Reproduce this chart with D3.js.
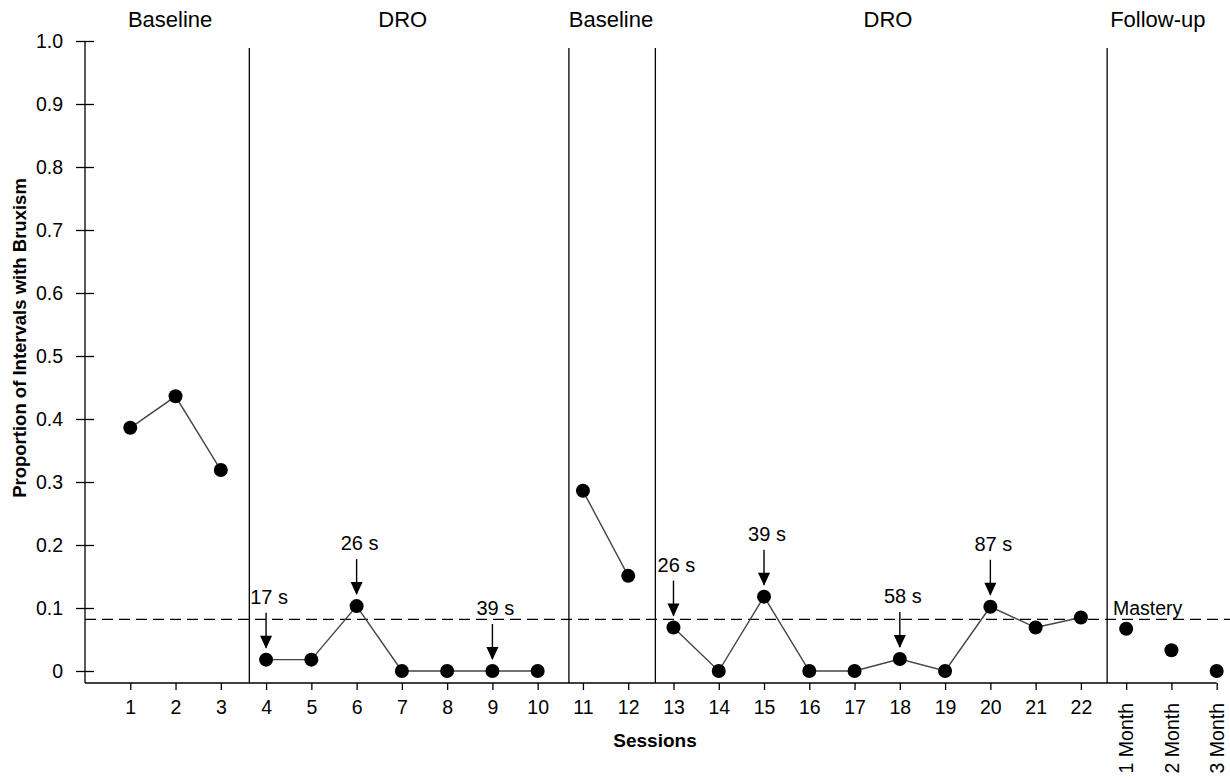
<!DOCTYPE html>
<html>
<head>
<meta charset="utf-8">
<script src="https://cdn.jsdelivr.net/npm/d3@7"></script>
<style>
  html, body { margin: 0; padding: 0; background: #fff; }
  svg text { font-family: "Liberation Sans", Arial, sans-serif; fill: #000; }
</style>
</head>
<body>
<svg id="chart" width="1230" height="778"></svg>
<script>
// ---- data ----
const sessionLabels = ["1","2","3","4","5","6","7","8","9","10","11","12","13","14","15","16","17","18","19","20","21","22","1 Month","2 Month","3 Month"];
const baseline1 = [0.386, 0.436, 0.319];            // sessions 1-3
const dro1 = [0.018, 0.018, 0.103, 0, 0, 0, 0];     // sessions 4-10
const baseline2 = [0.286, 0.151];                   // sessions 11-12
const dro2 = [0.069, 0, 0.118, 0, 0, 0.019, 0, 0.102, 0.069, 0.085]; // sessions 13-22
const followUp = [0.067, 0.033, 0];                 // 1, 2, 3 month
const phaseNames = ["Baseline", "DRO", "Baseline", "DRO", "Follow-up"];
const phaseCenters = [1.88, 7.02, 11.62, 17.74, 23.7];
const phaseChanges = [3.63, 10.69, 12.6, 22.58];
const annotSessions = [4, 6, 9, 13, 15, 18, 20];
const annotLabels = ["17 s", "26 s", "39 s", "26 s", "39 s", "58 s", "87 s"];
const masteryValue = 0.082;
const yTicks = [0, 0.1, 0.2, 0.3, 0.4, 0.5, 0.6, 0.7, 0.8, 0.9, 1.0];

// ---- build series ----
function seg(values, start) { return values.map((v, i) => ({ s: start + i, v })); }
const segments = [seg(baseline1, 1), seg(dro1, 4), seg(baseline2, 11), seg(dro2, 13)];
const fu = seg(followUp, 23);
const allPts = segments.flat().concat(fu);
const valueAt = s => allPts.find(p => p.s === s).v;

const svg = d3.select("#chart");
const x = d3.scaleLinear().domain([0, 25]).range([85, 1216.7]);
const y = d3.scaleLinear().domain([0, 1]).range([671, 41]);
const xAxisY = 683;
const FONT = "Liberation Sans, Arial, sans-serif";

// axes
const yAxis = d3.axisLeft(y).tickValues(yTicks).tickSize(9).tickPadding(13)
  .tickFormat(d => d === 0 ? "0" : d3.format(".1f")(d));
const gy = svg.append("g").attr("transform", `translate(${x(0)},0)`).call(yAxis);
gy.select(".domain").remove();
gy.selectAll(".tick line").attr("x1", -9).attr("x2", 9).attr("stroke", "#000").attr("stroke-width", 1.3);
gy.selectAll(".tick text").attr("font-size", 19.5).attr("font-family", FONT);
svg.append("line").attr("x1", x(0)).attr("x2", x(0)).attr("y1", y(1)).attr("y2", xAxisY)
  .attr("stroke", "#000").attr("stroke-width", 1.3);

const xAxis = d3.axisBottom(x).tickValues(d3.range(1, 26)).tickSize(7).tickPadding(10)
  .tickFormat(d => sessionLabels[d - 1]);
const gx = svg.append("g").attr("transform", `translate(0,${xAxisY})`).call(xAxis);
gx.select(".domain").remove();
gx.selectAll(".tick line").attr("stroke", "#000").attr("stroke-width", 1.3);
gx.selectAll(".tick text").attr("font-size", 19.5).attr("font-family", FONT);
gx.selectAll(".tick text").filter(d => d > 22)
  .attr("transform", "rotate(-90)")
  .attr("text-anchor", "end")
  .attr("x", -20).attr("y", 0).attr("dy", "0.35em");
svg.append("line").attr("x1", x(0)).attr("x2", x(25)).attr("y1", xAxisY).attr("y2", xAxisY)
  .attr("stroke", "#000").attr("stroke-width", 1.3);

// phase change lines
svg.selectAll(".phase").data(phaseChanges).join("line")
  .attr("x1", d => x(d)).attr("x2", d => x(d)).attr("y1", 48).attr("y2", xAxisY)
  .attr("stroke", "#000").attr("stroke-width", 1.3);

// phase labels
svg.selectAll(".plabel").data(phaseNames).join("text")
  .attr("x", (d, i) => x(phaseCenters[i])).attr("y", 27)
  .attr("text-anchor", "middle").attr("font-size", 22).text(d => d);

// mastery line
svg.append("line").attr("x1", x(0)).attr("x2", 1230).attr("y1", y(masteryValue)).attr("y2", y(masteryValue))
  .attr("stroke", "#000").attr("stroke-width", 1.2).attr("stroke-dasharray", "11,6");
svg.append("text").attr("x", 1113).attr("y", 615)
  .attr("font-size", 19.5).text("Mastery");

// data lines
const line = d3.line().x(d => x(d.s)).y(d => y(d.v));
svg.selectAll(".seg").data(segments).join("path")
  .attr("d", line).attr("fill", "none").attr("stroke", "#444").attr("stroke-width", 1.4);

// points
svg.selectAll(".pt").data(allPts).join("circle")
  .attr("cx", d => x(d.s)).attr("cy", d => y(d.v)).attr("r", 7).attr("fill", "#000");

// annotations with arrows
const ann = svg.selectAll(".ann").data(annotSessions).join("g");
ann.append("line")
  .attr("x1", d => x(d)).attr("x2", d => x(d))
  .attr("y1", d => y(valueAt(d)) - 47).attr("y2", d => y(valueAt(d)) - 12)
  .attr("stroke", "#000").attr("stroke-width", 1.4);
ann.append("path")
  .attr("d", d => { const cx = x(d), ty = y(valueAt(d)) - 11; return `M${cx - 6},${ty - 13} L${cx + 6},${ty - 13} L${cx},${ty} Z`; })
  .attr("fill", "#000");
ann.append("text")
  .attr("x", d => x(d) + 3).attr("y", d => y(valueAt(d)) - 56)
  .attr("text-anchor", "middle").attr("font-size", 20)
  .text((d, i) => annotLabels[i]);

// axis titles
svg.append("text").attr("x", 655).attr("y", 747).attr("text-anchor", "middle")
  .attr("font-size", 19).attr("font-weight", "bold").text("Sessions");
svg.append("text").attr("transform", "translate(26,338) rotate(-90)").attr("text-anchor", "middle")
  .attr("font-size", 18.5).attr("font-weight", "bold").text("Proportion of Intervals with Bruxism");
</script>
</body>
</html>
